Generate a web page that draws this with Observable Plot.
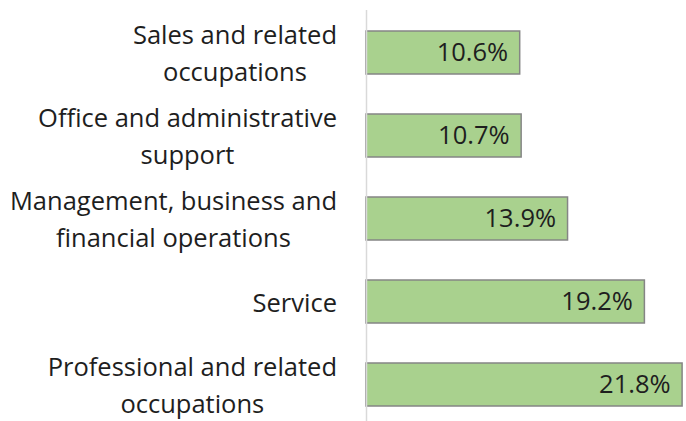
<!DOCTYPE html>
<html>
<head>
<meta charset="utf-8">
<script src="https://cdn.jsdelivr.net/npm/d3@7"></script>
<script src="https://cdn.jsdelivr.net/npm/@observablehq/plot@0.6"></script>
<style>
  html, body { margin: 0; padding: 0; background: #fff; }
  svg { display: block; }
</style>
</head>
<body>
<script>
const categories = [
  "Sales and related occupations",
  "Office and administrative support",
  "Management, business and financial operations",
  "Service",
  "Professional and related occupations"
];
const categoryLabels = [
  "Sales and related\noccupations",
  "Office and administrative\nsupport",
  "Management, business and\nfinancial operations",
  "Service",
  "Professional and related\noccupations"
];
const shares = [10.6, 10.7, 13.9, 19.2, 21.8];

const data = categories.map((c, i) => ({category: c, label: categoryLabels[i], value: shares[i]}));

const FONT = "'Open Sans', sans-serif";

const chart = Plot.plot({
  width: 686,
  height: 421,
  marginLeft: 366,
  marginRight: 1,
  marginTop: 16,
  marginBottom: 0,
  style: {fontFamily: FONT, background: "#fff", overflow: "visible"},
  x: {domain: [0, 22], axis: null},
  y: {type: "band", domain: categories, paddingInner: 0.485, paddingOuter: 0.168, axis: null},
  marks: [
    Plot.barX(data, {x: "value", y: "category", fill: "#a9d18e", stroke: "#858585", strokeWidth: 1.5}),
    Plot.ruleX([0], {stroke: "#d9d9d9", strokeWidth: 1.5, insetTop: -6}),
    Plot.text(data, {
      x: "value", y: "category", text: d => d.value.toFixed(1) + "%",
      textAnchor: "end", dx: -12, dy: 0, fontSize: 25.5, fill: "#1e1e1e"
    }),
    Plot.text(data, {
      y: "category", text: "label", frameAnchor: "left", textAnchor: "middle",
      lineAnchor: "middle", lineHeight: 1.45, fontSize: 25.5, fill: "#1e1e1e", dy: -2
    })
  ]
});

document.body.append(chart);

function alignLabels() {
  const groups = chart.querySelectorAll('g[aria-label="text"]');
  const g = groups[groups.length - 1];
  if (!g) return;
  const svgLeft = chart.getBoundingClientRect().left;
  g.querySelectorAll("text").forEach(t => {
    const r = t.getBoundingClientRect();
    const right = r.right - svgLeft;
    const delta = 337 - right;
    if (Math.abs(delta) < 0.5) return;
    const prev = t.getAttribute("transform") || "";
    t.setAttribute("transform", `translate(${delta},0) ${prev}`);
  });
}
alignLabels();
if (document.fonts && document.fonts.ready) document.fonts.ready.then(alignLabels);
</script>
</body>
</html>
